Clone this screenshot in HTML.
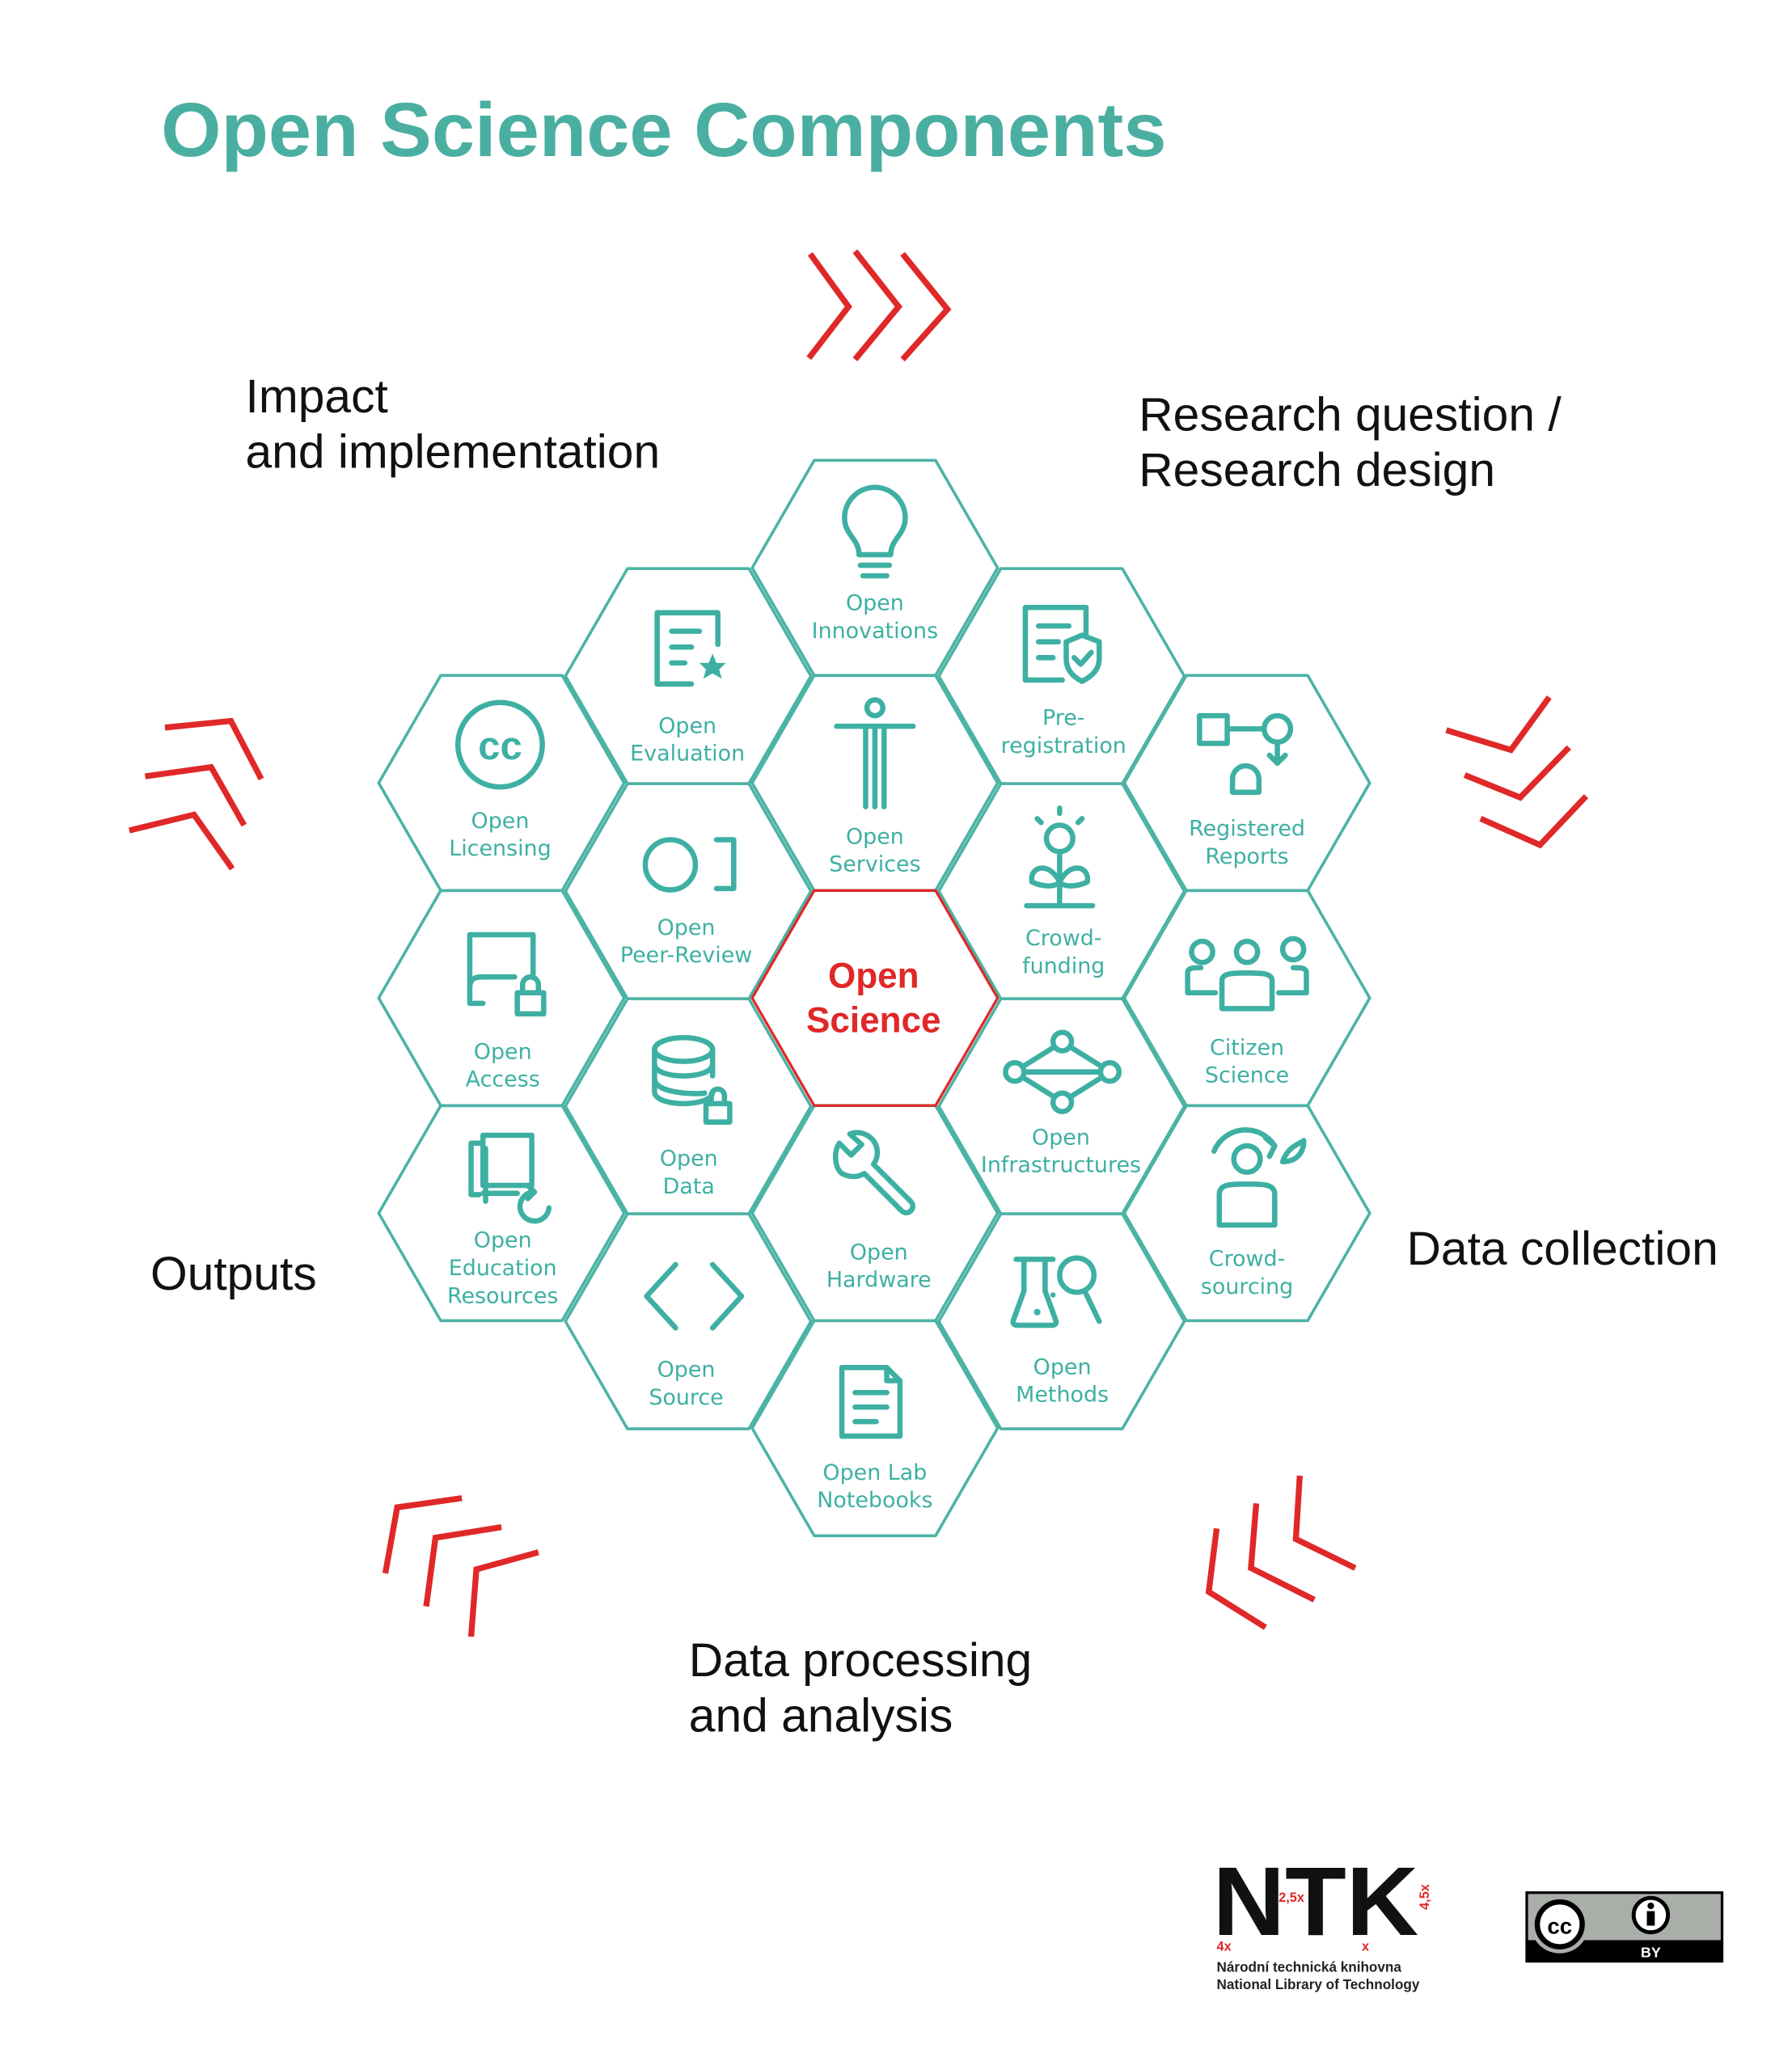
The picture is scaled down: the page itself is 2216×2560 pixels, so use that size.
<!DOCTYPE html>
<html><head><meta charset="utf-8"><style>
html,body{margin:0;padding:0;background:#fff}
svg{display:block}
.t{font-family:"Liberation Sans",sans-serif}
.hl{font-family:"DejaVu Sans","Liberation Sans",sans-serif;font-size:16.5px;fill:#3eb0a3;text-anchor:middle}
.lab{font-family:"Liberation Sans",sans-serif;font-size:36px;fill:#111}
.hx{fill:none;stroke:#4cb3a6;stroke-width:2.2;stroke-linejoin:round}
.ic{fill:none;stroke:#3eb0a3;stroke-width:4;stroke-linecap:round;stroke-linejoin:round}
.ch{fill:none;stroke:#e02828;stroke-width:4.5;stroke-linejoin:miter}
</style></head><body>
<svg width="2216" height="2560" viewBox="0 0 1358 1568" xmlns="http://www.w3.org/2000/svg">
<rect width="1358" height="1568" fill="#fff"/>
<text x="122" y="118" class="t" font-size="58" font-weight="bold" fill="#4aafa1" textLength="762" lengthAdjust="spacingAndGlyphs">Open Science Components</text>

<text class="lab" x="186" y="312">Impact</text>
<text class="lab" x="186" y="354">and implementation</text>
<text class="lab" x="863" y="326">Research question /</text>
<text class="lab" x="863" y="368">Research design</text>
<text class="lab" x="114" y="977">Outputs</text>
<text class="lab" x="1066" y="958">Data collection</text>
<text class="lab" x="522" y="1270">Data processing</text>
<text class="lab" x="522" y="1312">and analysis</text>

<!-- chevrons -->
<g class="ch">
<polyline points="614,192 643,232 613,271"/>
<polyline points="648,190 681,232 648,272"/>
<polyline points="684,192 718,234 684,272"/>
<polyline points="125,551 175,546 198,590"/>
<polyline points="110,588 160,581 185,625"/>
<polyline points="98,629 147,617 176,658"/>
<polyline points="1096,553 1145,568 1174,528"/>
<polyline points="1110,587 1152,604 1189,566"/>
<polyline points="1122,620 1167,640 1202,603"/>
<polyline points="292,1192 301,1142 350,1135"/>
<polyline points="323,1217 330,1165 380,1157"/>
<polyline points="357,1240 361,1189 408,1176"/>
<polyline points="922,1158 916,1206 959,1233"/>
<polyline points="952,1139 948,1188 996,1212"/>
<polyline points="985,1118 982,1166 1027,1188"/>
</g>

<!-- hexes -->
<g class="hx">
<!-- center col cx 663 -->
<polygon points="570,430 617,348.5 709,348.5 756,430 709,511.5 617,511.5"/>
<polygon points="570,593 617,511.5 709,511.5 756,593 709,674.5 617,674.5"/>
<polygon points="570,919 617,837.5 709,837.5 756,919 709,1000.5 617,1000.5"/>
<polygon points="570,1082 617,1000.5 709,1000.5 756,1082 709,1163.5 617,1163.5"/>
<!-- left col cx 521.5 -->
<polygon points="428.5,512 475.5,430.5 567.5,430.5 614.5,512 567.5,593.5 475.5,593.5"/>
<polygon points="428.5,675 475.5,593.5 567.5,593.5 614.5,675 567.5,756.5 475.5,756.5"/>
<polygon points="428.5,838 475.5,756.5 567.5,756.5 614.5,838 567.5,919.5 475.5,919.5"/>
<polygon points="428.5,1001 475.5,919.5 567.5,919.5 614.5,1001 567.5,1082.5 475.5,1082.5"/>
<!-- leftmost cx 380 -->
<polygon points="287,593 334,511.5 426,511.5 473,593 426,674.5 334,674.5"/>
<polygon points="287,756 334,674.5 426,674.5 473,756 426,837.5 334,837.5"/>
<polygon points="287,919 334,837.5 426,837.5 473,919 426,1000.5 334,1000.5"/>
<!-- right col cx 804.5 -->
<polygon points="711.5,512 758.5,430.5 850.5,430.5 897.5,512 850.5,593.5 758.5,593.5"/>
<polygon points="711.5,675 758.5,593.5 850.5,593.5 897.5,675 850.5,756.5 758.5,756.5"/>
<polygon points="711.5,838 758.5,756.5 850.5,756.5 897.5,838 850.5,919.5 758.5,919.5"/>
<polygon points="711.5,1001 758.5,919.5 850.5,919.5 897.5,1001 850.5,1082.5 758.5,1082.5"/>
<!-- rightmost cx 945 -->
<polygon points="852,593 899,511.5 991,511.5 1038,593 991,674.5 899,674.5"/>
<polygon points="852,756 899,674.5 991,674.5 1038,756 991,837.5 899,837.5"/>
<polygon points="852,919 899,837.5 991,837.5 1038,919 991,1000.5 899,1000.5"/>
</g>
<polygon points="570,756 617,674.5 709,674.5 756,756 709,837.5 617,837.5" fill="none" stroke="#e02828" stroke-width="2" stroke-linejoin="round"/>
<text x="662" y="748" class="t" font-size="27" font-weight="bold" fill="#e02828" text-anchor="middle">Open</text>
<text x="662" y="782" class="t" font-size="27" font-weight="bold" fill="#e02828" text-anchor="middle">Science</text>

<!-- labels -->
<g class="hl">
<text x="663" y="462">Open</text><text x="663" y="483">Innovations</text>
<text x="663" y="639">Open</text><text x="663" y="660">Services</text>
<text x="666" y="954">Open</text><text x="666" y="975">Hardware</text>
<text x="663" y="1121">Open Lab</text><text x="663" y="1142">Notebooks</text>
<text x="521" y="555">Open</text><text x="521" y="576">Evaluation</text>
<text x="520" y="708">Open</text><text x="520" y="729">Peer-Review</text>
<text x="522" y="883">Open</text><text x="522" y="904">Data</text>
<text x="520" y="1043">Open</text><text x="520" y="1064">Source</text>
<text x="379" y="627">Open</text><text x="379" y="648">Licensing</text>
<text x="381" y="802">Open</text><text x="381" y="823">Access</text>
<text x="381" y="945">Open</text><text x="381" y="966">Education</text><text x="381" y="987">Resources</text>
<text x="806" y="549">Pre-</text><text x="806" y="570">registration</text>
<text x="806" y="716">Crowd-</text><text x="806" y="737">funding</text>
<text x="804" y="867">Open</text><text x="804" y="888">Infrastructures</text>
<text x="805" y="1041">Open</text><text x="805" y="1062">Methods</text>
<text x="945" y="633">Registered</text><text x="945" y="654">Reports</text>
<text x="945" y="799">Citizen</text><text x="945" y="820">Science</text>
<text x="945" y="959">Crowd-</text><text x="945" y="980">sourcing</text>
</g>

<!-- icons -->
<g class="ic">
<!-- bulb -->
<path d="M651,420 C651,408 640,405 640,392 A23,23 0 1 1 686,392 C686,405 675,408 675,420 Z"/>
<line x1="652" y1="428" x2="674" y2="428"/><line x1="654" y1="436" x2="672" y2="436"/>
<!-- evaluation doc -->
<path d="M524,518 L498,518 L498,464 L544,464 L544,488"/>
<line x1="509" y1="478" x2="530" y2="478"/><line x1="509" y1="490" x2="524" y2="490"/><line x1="509" y1="502" x2="519" y2="502"/>
<!-- pre-reg doc -->
<path d="M805,515 L777,515 L777,460 L823,460 L823,480"/>
<line x1="787" y1="474" x2="810" y2="474"/><line x1="787" y1="486" x2="802" y2="486"/><line x1="787" y1="498" x2="798" y2="498"/>
<path d="M808,486 L820,481 L833,486 L833,499 C833,508 826,513 820,516 C814,513 808,508 808,499 Z"/>
<polyline points="814,498 819,503 827,494"/>
<!-- registered reports -->
<rect x="909" y="542" width="21" height="21"/>
<line x1="930" y1="552" x2="957" y2="552"/>
<circle cx="968" cy="552" r="10"/>
<polyline points="968,562 968,578"/><polyline points="962,572 968,578 974,572"/>
<path d="M934,600 L934,590 A10,10 0 0 1 954,590 L954,600 Z"/>
<!-- licensing cc -->
<circle cx="379" cy="564" r="32"/>
<!-- services person -->
<circle cx="663" cy="536" r="6"/>
<path d="M634,550 L692,550 M663,550 L663,611 M656,550 L656,611 M670,550 L670,611"/>
<!-- peer review -->
<circle cx="508" cy="655" r="19"/>
<polyline points="543,636 556,636 556,673 543,673"/>
<!-- crowdfunding -->
<circle cx="803" cy="635" r="10"/>
<line x1="803" y1="645" x2="803" y2="685"/>
<path d="M803,668 C795,652 780,656 782,668 C790,672 800,672 803,668 Z"/>
<path d="M803,668 C811,652 826,656 824,668 C816,672 806,672 803,668 Z"/>
<line x1="778" y1="686" x2="828" y2="686"/>
<line x1="803" y1="612" x2="803" y2="616"/><line x1="786" y1="620" x2="789" y2="623"/><line x1="820" y1="620" x2="817" y2="623"/>
<!-- access book -->
<path d="M366,760 L356,760 L356,708 L404,708 L404,738"/>
<path d="M356,748 C356,740 362,740 366,740 L390,740"/>
<rect x="392" y="752" width="20" height="16"/><path d="M396,752 L396,746 A6,6 0 0 1 408,746 L408,752"/>
<!-- citizen -->
<circle cx="911" cy="721" r="8"/><circle cx="945" cy="721" r="8"/><circle cx="980" cy="719" r="8"/>
<path d="M921,752 L900,752 L900,737 C900,733 904,733 910,733"/>
<path d="M969,752 L990,752 L990,737 C990,733 986,733 980,733"/>
<path d="M926,764 L926,743 C926,737 934,737 945,737 C956,737 964,737 964,743 L964,764 Z"/>
<!-- data db -->
<ellipse cx="518" cy="795" rx="22" ry="9"/>
<path d="M496,795 L496,827 C496,839 540,839 540,827 M540,795 L540,815"/>
<path d="M496,806 C496,818 540,818 540,806 M496,817 C496,829 530,829 534,828"/>
<rect x="535" y="836" width="18" height="14"/><path d="M539,836 L539,830 A5,5 0 0 1 549,830 L549,836"/>
<!-- infrastructures -->
<circle cx="805" cy="789" r="7"/><circle cx="769" cy="812" r="7"/><circle cx="841" cy="812" r="7"/><circle cx="805" cy="835" r="7"/>
<path d="M799,793 L775,808 M811,793 L835,808 M775,816 L799,831 M835,816 L811,831 M776,812 L834,812"/>
<!-- education -->
<path d="M363,905 L357,905 L357,866 L366,866"/>
<path d="M368,910 L368,870"/>
<rect x="366" y="860" width="37" height="38"/>
<path d="M366,904 L392,904"/>
<path d="M416,915 A11,11 0 1 1 405,903"/><polyline points="400,898 405,903 400,908"/>
<!-- hardware wrench -->
<path d="M636,866 L645,875 L653,867 L644,859 C652,856 661,860 664,868 C666,874 664,879 662,882 L690,910 C695,915 688,922 683,917 L655,889 C650,892 644,892 638,889 C632,884 632,872 636,866 Z"/>
<!-- crowdsourcing -->
<circle cx="945" cy="878" r="10"/>
<path d="M924,928 L924,905 C924,897 932,897 945,897 C958,897 966,897 966,905 L966,928 Z"/>
<path d="M920,872 A26,26 0 0 1 966,868"/><polyline points="959,862 966,868 962,876"/>
<path d="M972,880 C976,868 986,866 988,864 C988,874 982,880 972,880 Z"/>
<!-- source -->
<polyline points="512,958 490,982 512,1006"/><polyline points="540,958 562,982 540,1006"/>
<!-- methods -->
<path d="M776,956 L776,978 L768,1000 C767,1003 769,1004 771,1004 L797,1004 C800,1004 801,1002 800,1000 L792,978 L792,956"/>
<line x1="770" y1="954" x2="798" y2="954"/>
<circle cx="816" cy="966" r="13"/><path d="M822,978 L833,1001"/>
<!-- lab notebook -->
<path d="M672,1036 L638,1036 L638,1088 L682,1088 L682,1046 Z M672,1036 L672,1046 L682,1046"/>
<line x1="648" y1="1055" x2="672" y2="1055"/><line x1="648" y1="1066" x2="672" y2="1066"/><line x1="648" y1="1077" x2="664" y2="1077"/>
</g>
<polygon points="540,495 543,502 550,502 545,507 547,514 540,510 533,514 535,507 530,502 537,502" fill="#3eb0a3"/>
<text x="379" y="575" class="t" font-size="30" font-weight="bold" fill="#3eb0a3" text-anchor="middle">cc</text>
<circle cx="798" cy="981" r="2" fill="#3eb0a3"/><circle cx="786" cy="994" r="2.5" fill="#3eb0a3"/>

<!-- NTK logo -->
<text x="919" y="1466" class="t" font-size="74" font-weight="bold" fill="#111" textLength="156" lengthAdjust="spacingAndGlyphs">NTK</text>
<text x="969" y="1441" class="t" font-size="10" font-weight="bold" fill="#e02828">2,5x</text>
<text x="1083" y="1447" class="t" font-size="10" font-weight="bold" fill="#e02828" transform="rotate(-90 1083 1447)">4,5x</text>
<text x="922" y="1478" class="t" font-size="10" font-weight="bold" fill="#e02828">4x</text>
<text x="1032" y="1478" class="t" font-size="10" font-weight="bold" fill="#e02828">x</text>
<text x="922" y="1494" class="t" font-size="10.5" font-weight="bold" fill="#222">Národní technická knihovna</text>
<text x="922" y="1507" class="t" font-size="10.5" font-weight="bold" fill="#222">National Library of Technology</text>

<!-- CC BY -->
<rect x="1157" y="1434" width="148" height="52" fill="#a9aea9" stroke="#000" stroke-width="2"/>
<rect x="1157" y="1470" width="148" height="16" fill="#000"/>
<circle cx="1182" cy="1458" r="22" fill="#a9aea9"/>
<circle cx="1182" cy="1458" r="17" fill="#fff" stroke="#000" stroke-width="4"/>
<text x="1182" y="1465" class="t" font-size="17" font-weight="bold" fill="#000" text-anchor="middle">cc</text>
<circle cx="1251" cy="1451" r="13" fill="#fff" stroke="#000" stroke-width="3"/>
<circle cx="1251" cy="1444" r="2.5" fill="#000"/><rect x="1248" y="1448" width="6" height="11" fill="#000"/>
<text x="1251" y="1483" class="t" font-size="11" font-weight="bold" fill="#fff" text-anchor="middle">BY</text>
</svg>
</body></html>
